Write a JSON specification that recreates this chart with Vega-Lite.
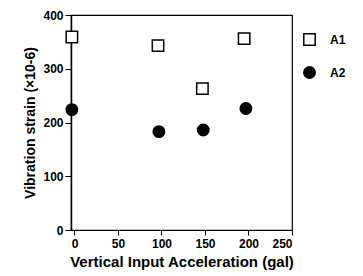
{
  "$schema": "https://vega.github.io/schema/vega-lite/v6.json",
  "autosize": "none",
  "width": 221,
  "height": 215,
  "padding": {"left": 71, "top": 15, "right": 71, "bottom": 46},
  "background": "white",
  "config": {
    "view": {"stroke": "black", "strokeWidth": 1.2},
    "font": "Liberation Sans"
  },
  "data": {
    "values": [
      {"acc": -3, "strain": 359, "series": "A1"},
      {"acc": 96, "strain": 343, "series": "A1"},
      {"acc": 147, "strain": 263, "series": "A1"},
      {"acc": 195, "strain": 356, "series": "A1"},
      {"acc": -3, "strain": 224, "series": "A2"},
      {"acc": 97, "strain": 183, "series": "A2"},
      {"acc": 148, "strain": 186, "series": "A2"},
      {"acc": 197, "strain": 226, "series": "A2"}
    ]
  },
  "mark": {"type": "point", "size": 130, "opacity": 1, "strokeWidth": 1.5, "filled": true},
  "encoding": {
    "x": {
      "field": "acc", "type": "quantitative",
      "scale": {"domain": [-4, 250], "nice": false, "zero": false},
      "axis": {
        "values": [0, 50, 100, 150, 200, 250],
        "title": "Vertical Input Acceleration  (gal)",
        "titleFont": "Liberation Sans", "titleFontSize": 15, "titleFontWeight": "bold",
        "titleColor": "black", "titlePadding": 5,
        "labelFont": "Liberation Sans", "labelFontSize": 12, "labelFontWeight": "bold",
        "labelColor": "black", "labelPadding": 3,
        "domainColor": "black", "domainWidth": 1.2, "tickColor": "black", "tickSize": 5,
        "grid": false
      }
    },
    "y": {
      "field": "strain", "type": "quantitative",
      "scale": {"domain": [0, 400], "nice": false},
      "axis": {
        "values": [0, 100, 200, 300, 400],
        "title": "Vibration strain (×10-6)",
        "titleFont": "Liberation Sans", "titleFontSize": 14, "titleFontWeight": "bold",
        "titleColor": "black", "titlePadding": 5,
        "labelFont": "Liberation Sans", "labelFontSize": 12, "labelFontWeight": "bold",
        "labelColor": "black", "labelPadding": 2,
        "domainColor": "black", "domainWidth": 1.5, "tickColor": "black", "tickSize": 6,
        "grid": false
      }
    },
    "shape": {
      "field": "series", "type": "nominal",
      "scale": {"domain": ["A1", "A2"], "range": ["square", "circle"]},
      "legend": {
        "title": null, "orient": "none", "legendX": 232, "legendY": 18,
        "labelFont": "Liberation Sans", "labelFontSize": 12, "labelFontWeight": "bold",
        "labelColor": "black", "symbolSize": 130, "rowPadding": 14, "labelOffset": 14,
        "encode": {"symbols": {"update": {"stroke": {"value": "black"}, "strokeWidth": {"value": 1.5}}}}
      }
    },
    "fill": {
      "field": "series", "type": "nominal",
      "scale": {"domain": ["A1", "A2"], "range": ["white", "black"]},
      "legend": {
        "title": null, "orient": "none", "legendX": 232, "legendY": 18,
        "labelFont": "Liberation Sans", "labelFontSize": 12, "labelFontWeight": "bold",
        "labelColor": "black", "symbolSize": 130, "rowPadding": 14, "labelOffset": 14,
        "encode": {"symbols": {"update": {"stroke": {"value": "black"}, "strokeWidth": {"value": 1.5}}}}
      }
    },
    "stroke": {"value": "black"}
  }
}
